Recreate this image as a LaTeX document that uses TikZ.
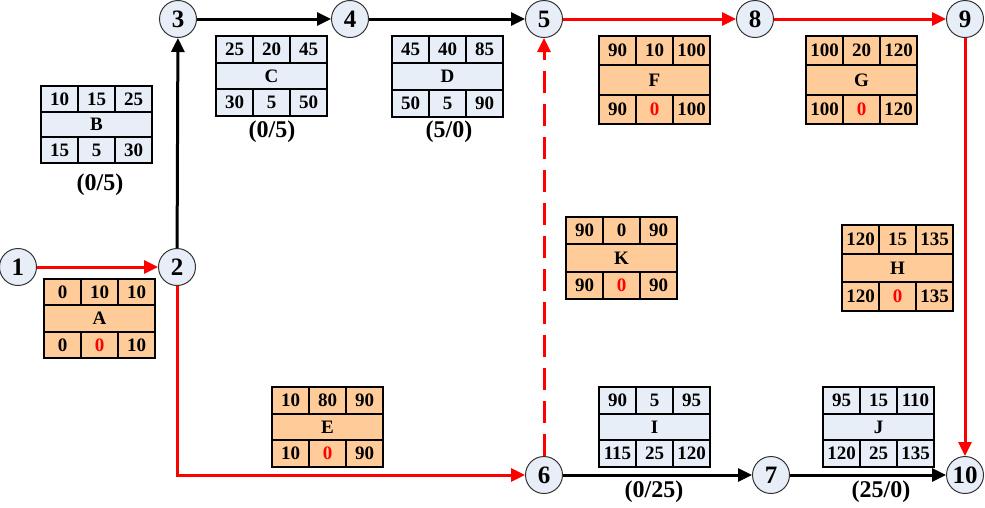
\documentclass[tikz,border=0pt]{standalone}
\usepackage{fontspec}
\setmainfont{Liberation Serif}
\usetikzlibrary{arrows.meta}
\definecolor{ncfill}{HTML}{E8EEF8}
\definecolor{critfill}{HTML}{FFCC99}
\definecolor{ncslack}{HTML}{000000}
\definecolor{critslack}{HTML}{FF0000}
\definecolor{critred}{HTML}{FF0000}
\tikzset{
  evt/.style={circle, draw=black!80, line width=1pt, fill=ncfill, minimum size=37pt, inner sep=0pt,
    font=\fontsize{25}{25}\selectfont\bfseries},
  celltext/.style={inner sep=0pt, font=\fontsize{19}{19}\selectfont\bfseries},
  lbl/.style={inner sep=0pt, font=\fontsize{24}{24}\selectfont\bfseries},
  normal/.style={line width=3pt, draw=black, -{Triangle[length=14pt,width=13pt]}},
  crit/.style={line width=3pt, draw=critred, -{Triangle[length=14pt,width=13pt]}},
  dummy/.style={crit, dash pattern=on 22pt off 11pt},
}
\newcommand\cellsrow[9]{%
  \node[celltext] (#1-es) at (18.5,{#2/6}) {#4};
  \node[celltext] (#1-d)  at (55.5,{#2/6}) {#5};
  \node[celltext] (#1-ef) at (92.5,{#2/6}) {#6};
  \node[celltext] (#1-ls) at (18.5,{5*#2/6}) {#7};
  \node[celltext, text=#3slack] (#1-sl) at (55.5,{5*#2/6}) {#8};
  \node[celltext] (#1-lf) at (92.5,{5*#2/6}) {#9};
}
\newcommand\abox[8]{%
  \begin{scope}[shift={(#2,#3)}]
    \path[draw=black, line width=2.2pt, fill=#5fill] (0,0) rectangle (111,#4);
    \draw[line width=1.8pt] (0,{#4/3}) -- (111,{#4/3}) (0,{2*#4/3}) -- (111,{2*#4/3})
      (37,0) -- (37,{#4/3}) (74,0) -- (74,{#4/3})
      (37,{2*#4/3}) -- (37,#4) (74,{2*#4/3}) -- (74,#4);
    \cellsrow{#1}{#4}{#5}#6#8
    \node[celltext] (#1-name) at (55.5,{#4/2}) {#7};
  \end{scope}}
\begin{document}
\begin{tikzpicture}[x=1pt,y=-1pt]
\useasboundingbox (0,0) rectangle (985,507);
% events
\node[evt] (n1) at (18,267) {1};
\node[evt] (n2) at (177,267) {2};
\node[evt] (n3) at (178,19) {3};
\node[evt] (n4) at (350,19) {4};
\node[evt] (n5) at (544,19) {5};
\node[evt] (n8) at (755,19) {8};
\node[evt] (n9) at (965,19) {9};
\node[evt] (n6) at (544,475) {6};
\node[evt] (n7) at (771,475) {7};
\node[evt] (n10) at (965,475) {10};
% activity boxes
\abox{B}{41}{86}{77}{nc}{{10}{15}{25}}{B}{{15}{5}{30}}
\abox{C}{216}{36}{80}{nc}{{25}{20}{45}}{C}{{30}{5}{50}}
\abox{D}{392}{36}{81}{nc}{{45}{40}{85}}{D}{{50}{5}{90}}
\abox{A}{44}{279}{79}{crit}{{0}{10}{10}}{A}{{0}{0}{10}}
\abox{E}{272}{387}{80}{crit}{{10}{80}{90}}{E}{{10}{0}{90}}
\abox{F}{599}{36}{88}{crit}{{90}{10}{100}}{F}{{90}{0}{100}}
\abox{G}{806}{36}{88}{crit}{{100}{20}{120}}{G}{{100}{0}{120}}
\abox{K}{566}{217}{82}{crit}{{90}{0}{90}}{K}{{90}{0}{90}}
\abox{H}{842}{225}{86}{crit}{{120}{15}{135}}{H}{{120}{0}{135}}
\abox{I}{599}{387}{80}{nc}{{90}{5}{95}}{I}{{115}{25}{120}}
\abox{J}{823}{387}{80}{nc}{{95}{15}{110}}{J}{{120}{25}{135}}
% float labels
\node[lbl] (fB) at (100,185) {(0/5)};
\node[lbl] (fC) at (272,132) {(0/5)};
\node[lbl] (fD) at (449,132) {(5/0)};
\node[lbl] (fI) at (654,492) {(0/25)};
\node[lbl] (fJ) at (881,492) {(25/0)};
% connectors
\draw[crit] (n1) -- (n2);
\draw[normal] (n2) -- (n3);
\draw[normal] (n3) -- (n4);
\draw[normal] (n4) -- (n5);
\draw[crit] (n5) -- (n8);
\draw[crit] (n8) -- (n9);
\draw[crit] (n9) -- (n10);
\draw[crit] (n2) |- (n6);
\draw[dummy] (n6) -- (n5);
\draw[normal] (n6) -- (n7);
\draw[normal] (n7) -- (n10);
\end{tikzpicture}
\end{document}
